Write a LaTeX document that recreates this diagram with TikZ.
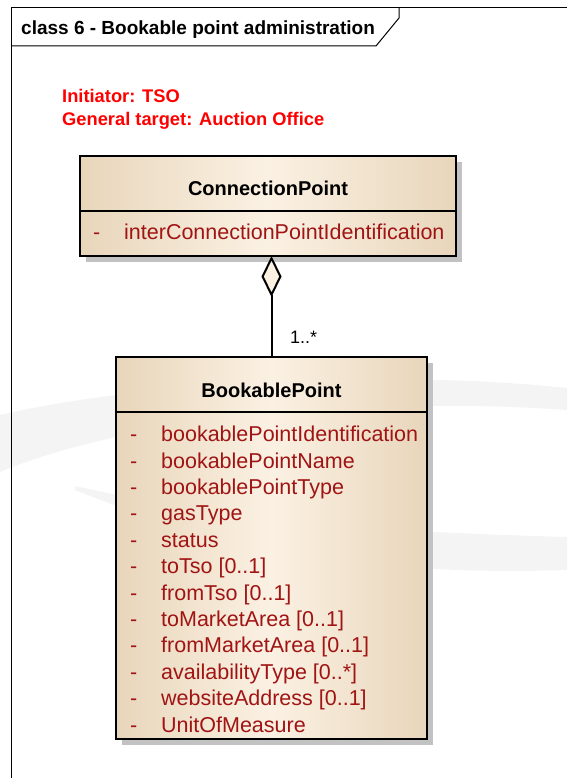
\documentclass[tikz,border=0pt]{standalone}
\usepackage{fontspec}
\setmainfont{Liberation Sans}
\usepackage{tikz}
\usetikzlibrary{arrows.meta,positioning,shadows}

\definecolor{umlTan}{RGB}{232,214,187}
\definecolor{umlCream}{RGB}{251,241,227}
\definecolor{umlRed}{RGB}{160,20,20}
\definecolor{noteRed}{RGB}{255,0,0}
\definecolor{swoosh}{RGB}{244,244,244}

\newcommand{\umlattr}[1]{\makebox[31pt][l]{-}#1}

\begin{document}
\begin{tikzpicture}
		    		[x=1pt, y=-1pt,
				 frameline/.style = {draw, line width=1pt},
				  umlline/.style = {draw, line width=2pt},
				 classbox/.style = {draw, line width=2pt, shape=rectangle, outer sep=0pt, anchor=north west,
										left color=umlTan, right color=umlTan, middle color=umlCream,
										drop shadow={shadow xshift=6pt, shadow yshift=-6pt, opacity=1, fill=black!24}},
				classname/.style = {font=\fontsize{20}{24}\selectfont\bfseries, inner sep=0pt, anchor=base},
				     attr/.style = {font=\fontsize{21.5}{26}\selectfont, text=umlRed, inner sep=0pt,
										text height=17pt, text depth=9pt},
				     note/.style = {font=\fontsize{18.3}{23}\selectfont\bfseries, text=noteRed, inner sep=0pt, anchor=base west},
				     mult/.style = {font=\fontsize{18}{22}\selectfont, inner sep=0pt, anchor=base west},
		             ]

			\useasboundingbox (0,0) rectangle (567,778);

			\fill[swoosh] (0,415) .. controls (150,380) and (400,370) .. (567,388)
				-- (567,410) .. controls (400,398) and (150,410) .. (0,472) -- cycle;
			\fill[swoosh] (75,486) .. controls (250,525) and (400,532) .. (567,537)
				-- (567,570) .. controls (400,575) and (250,560) .. (75,490) -- cycle;

			\draw[frameline] (11,778) -- (11,8) -- (567,8);
			\draw[frameline] (11,46) -- (376,46) -- (399,18) -- (399,8);
			\node [font=\fontsize{19}{23}\selectfont\bfseries, inner sep=0pt, anchor=base west] (frametitle) at (21,34.5) {class 6 - Bookable point administration};

			\node [note] (initiator) at (62,103) {Initiator: TSO};
			\node [note] (target)    at (62,126) {General target: Auction Office};

			\node [classbox, minimum width=376pt, minimum height=100pt] (cp) at (80,156) {};
			\draw[umlline] ([yshift=-55pt]cp.north west) -- ([yshift=-55pt]cp.north east);
			\node [classname] (cpname) at ([yshift=-39pt]cp.north) {ConnectionPoint};
			\node [attr, anchor=base west] (cpa1) at ([xshift=13pt, yshift=-83pt]cp.north west) {\umlattr{interConnectionPointIdentification}};

			\node [classbox, minimum width=311pt, minimum height=382pt] (bp) at (116,357) {};
			\draw[umlline] ([yshift=-55pt]bp.north west) -- ([yshift=-55pt]bp.north east);
			\node [classname] (bpname) at ([yshift=-40pt]bp.north) {BookablePoint};
			\node [attr, anchor=base west] (bpa1) at ([xshift=14pt, yshift=-84.7pt]bp.north west) {\umlattr{bookablePointIdentification}};
			\node [attr, below=0pt of bpa1.south west, anchor=north west]  (bpa2)  {\umlattr{bookablePointName}};
			\node [attr, below=0pt of bpa2.south west, anchor=north west]  (bpa3)  {\umlattr{bookablePointType}};
			\node [attr, below=0pt of bpa3.south west, anchor=north west]  (bpa4)  {\umlattr{gasType}};
			\node [attr, below=0pt of bpa4.south west, anchor=north west]  (bpa5)  {\umlattr{status}};
			\node [attr, below=0pt of bpa5.south west, anchor=north west]  (bpa6)  {\umlattr{toTso [0..1]}};
			\node [attr, below=0pt of bpa6.south west, anchor=north west]  (bpa7)  {\umlattr{fromTso [0..1]}};
			\node [attr, below=0pt of bpa7.south west, anchor=north west]  (bpa8)  {\umlattr{toMarketArea [0..1]}};
			\node [attr, below=0pt of bpa8.south west, anchor=north west]  (bpa9)  {\umlattr{fromMarketArea [0..1]}};
			\node [attr, below=0pt of bpa9.south west, anchor=north west]  (bpa10) {\umlattr{availabilityType [0..*]}};
			\node [attr, below=0pt of bpa10.south west, anchor=north west] (bpa11) {\umlattr{websiteAddress [0..1]}};
			\node [attr, below=0pt of bpa11.south west, anchor=north west] (bpa12) {\umlattr{UnitOfMeasure}};

			\draw[umlline, -{Diamond[length=41pt, width=20pt, fill=umlCream]}] (bp.north) -- (bp.north |- cp.south);
			\node [mult] (mult) at (290,343) {1..*};

    	\end{tikzpicture}
\end{document}
